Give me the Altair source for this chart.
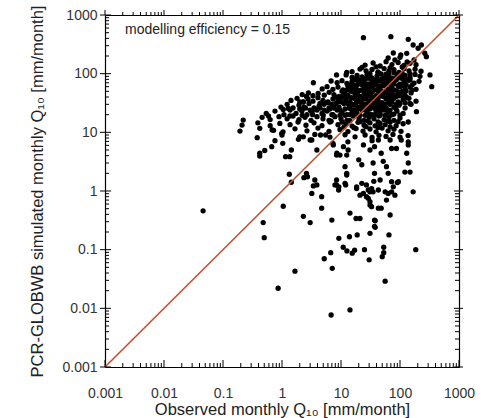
import altair as alt
import pandas as pd

# ---------------- data (observed, simulated) -------------
pts_top = [(103, 208), (130, 222), (167, 308), (203, 271), (230, 308), (263, 223), (280, 195),
           (63, 185), (82, 171), (100, 190), (132, 158), (173, 171), (77, 225), (24, 411),
           (70, 427), (138, 385), (322, 95), (345, 60), (3.4, 70), (8.4, 95), (12.5, 105),
           (147, 31), (190, 22.5), (138, 15), (100, 19.6)]
pts_146 = [(25.6, 140), (35, 152), (46, 135), (58, 160), (73, 143), (93, 155), (117, 138),
           (148, 150), (187, 142), (22.7, 128), (39.3, 131), (68, 126), (109, 130)]
pts_115 = [(15.4, 108), (21, 120), (26.6, 112), (33.6, 118), (42.5, 106), (53.8, 122), (65, 110),
           (79, 117), (96, 105), (117, 121), (142, 112), (180, 119), (227, 110)]
pts_91 = [(12.2, 95), (15.4, 86), (18.7, 93), (22.7, 88), (27.6, 97), (33.6, 85), (40.9, 92),
          (47.8, 99), (56, 87), (65, 94), (76, 84), (89, 96), (104, 89), (122, 93), (148, 86),
          (180, 97), (218, 90)]
pts_72 = [(6.8, 75), (8.6, 70), (10.4, 76), (12.6, 68), (15.4, 74), (18, 78), (21, 69), (24.6, 73),
          (28.7, 67), (33.6, 77), (39.3, 71), (46, 75), (53.8, 68), (62.8, 74), (73, 70), (86, 78),
          (100, 66), (117, 73), (142, 77), (173, 69), (210, 74)]
pts_57 = [(4.8, 55), (5.8, 60), (7.3, 54), (8.9, 59), (10.8, 53), (13.1, 61), (15.4, 56), (18, 58),
          (21, 52), (24.6, 61), (28.7, 55), (33.6, 59), (39.3, 53), (46, 57), (53.8, 62), (62.8, 54),
          (73, 58), (86, 52), (100, 60), (122, 55), (148, 59), (187, 54)]
pts_45 = [(2.2, 44), (2.8, 47), (3.35, 42), (4.1, 46), (5.2, 43), (6.3, 48), (7.6, 44), (9.3, 41),
          (11.2, 47), (13.1, 43), (15.4, 49), (18, 45), (21, 41), (24.6, 46), (28.7, 43), (33.6, 48),
          (39.3, 42), (46, 45), (53.8, 49), (62.8, 43), (73, 47), (86, 41), (100, 46), (122, 43),
          (154, 47)]
pts_36 = [(1.42, 35), (1.8, 38), (2.27, 33), (2.76, 37), (3.35, 34), (4.07, 39), (4.95, 35), (6.0, 32),
          (7.3, 37), (8.9, 34), (10.4, 39), (12.2, 35), (14.2, 33), (16.6, 38), (19.4, 35), (22.7, 32),
          (26.6, 37), (31, 34), (36.3, 39), (42.5, 35), (49.7, 32), (58, 37), (68, 34), (79, 38),
          (93, 33), (113, 36), (142, 38), (187, 34)]
pts_28 = [(0.96, 27), (1.22, 30), (1.54, 26), (1.94, 29), (2.36, 27), (2.87, 31), (3.49, 26),
          (4.24, 28), (5.15, 30), (6.26, 26), (7.6, 29), (9.25, 27), (11.2, 31), (13.7, 26), (16.6, 29),
          (19.4, 27), (22.7, 30), (26.6, 25), (31, 28), (36.3, 31), (42.5, 27), (49.7, 29), (58, 26),
          (68, 30), (79, 27), (96, 29), (122, 26), (154, 30)]
pts_22 = [(0.54, 21), (0.76, 23), (1.08, 20), (1.37, 24), (1.73, 21), (2.18, 23), (2.65, 20),
          (3.22, 22), (3.92, 24), (4.76, 21), (5.8, 23), (7.0, 20), (8.6, 24), (10.4, 22), (12.6, 20),
          (15.4, 23), (18.7, 21), (22.7, 24), (27.6, 22), (33.6, 20), (39.3, 23), (46, 21), (53.8, 24),
          (62.8, 22), (73, 20), (89, 23), (113, 21)]
pts_17 = [(0.22, 16.2), (0.46, 18), (0.63, 16.5), (0.89, 18.5), (1.22, 17), (1.54, 19), (1.94, 16.5),
          (2.45, 18), (3.1, 16), (3.92, 18.5), (4.95, 17), (6.26, 16), (7.9, 18.5), (10, 17), (12.6, 16),
          (16, 19), (20.2, 17), (24.6, 16), (29.9, 18), (36.3, 17), (44, 19), (53.8, 16.5), (65, 18),
          (79, 16), (100, 17.5)]
pts_14 = [(0.21, 13.3), (0.39, 14.5), (0.63, 13), (0.92, 14.2), (1.37, 13.5), (1.87, 15), (2.55, 13.2),
          (3.49, 14.5), (4.76, 13), (6.5, 15), (8.9, 13.5), (12.2, 14), (15.4, 12.8), (19.4, 14.8),
          (24.6, 13.2), (31, 14.5), (37.8, 12.9), (46, 14.2), (56, 13.5), (68, 15), (86, 13), (113, 14)]
pts_11 = [(0.194, 10.5), (0.42, 11.7), (0.68, 11), (1.04, 10.2), (1.66, 11.5), (2.65, 10.6),
          (4.07, 11.8), (6.26, 10.4), (9.6, 11.2), (13.1, 10.3), (18, 11.6), (23.6, 10.5), (31, 11.4),
          (39.3, 10.2), (49.7, 11.8), (62.8, 10.6), (79, 11.3), (104, 10.4)]
pts_9 = [(0.38, 8.1), (1.0, 9.0), (2.0, 8.4), (3.6, 9.2), (6.5, 8.3), (11.7, 9.1), (17.3, 8.4),
         (25.6, 9.0), (33.6, 8.2), (44, 8.9), (58, 8.5), (76, 9.2), (100, 8.3), (137, 8.8)]
pts_5 = [(0.76, 7.2), (3.0, 7.4), (7.3, 6.5), (13.1, 6.9), (24, 6.1), (33.6, 7.2), (43, 7.4), (68, 7.4),
         (105, 7.4), (138, 6.9), (0.51, 4.9), (0.67, 5.7), (1.44, 5.0), (3.9, 5.0), (11, 5.7),
         (13.2, 5.0), (31, 5.0), (37, 5.7), (72, 5.3), (87, 5.3), (138, 6.1), (130, 4.4), (0.42, 4.4),
         (0.42, 3.95), (1.15, 3.85), (1.35, 3.85), (8.5, 4.4), (9.6, 4.1), (48, 4.4), (7.4, 6.1)]
pts_fill = [(31, 100), (42.5, 106), (58, 98), (79, 104), (109, 101), (148, 99),
            (19.4, 80), (26.6, 83), (36.3, 78), (49.7, 82), (68, 79), (93, 84), (127, 80),
            (14.2, 64), (19.4, 66), (26.6, 62), (36.3, 65), (49.7, 63), (68, 66), (93, 62), (127, 65),
            (10.4, 50), (14.2, 52), (19.4, 49), (26.6, 51), (36.3, 53), (49.7, 50), (68, 52), (93, 49),
            (127, 51),
            (7.9, 40), (10.8, 41), (14.8, 39), (20.2, 40), (27.6, 42), (37.8, 39), (51.8, 41), (70.6, 40),
            (96.5, 42), (132, 39),
            (4.4, 31), (6.0, 33), (8.2, 31), (11.2, 32), (15.4, 30), (21, 33), (28.7, 31), (39.3, 32),
            (53.8, 30), (73, 33), (100, 31),
            (2.0, 25), (3.0, 24), (4.4, 26), (6.5, 25), (9.6, 24), (14.2, 26), (19.4, 25), (26.6, 24),
            (36.3, 26), (49.7, 25), (68, 24),
            (9.6, 19.5), (14.2, 20), (21, 19.5), (31, 20), (46, 19.5)]
pts_fill2 = [(16.6, 81), (22.7, 78), (31, 83), (42.5, 79), (58, 82), (79, 77), (109, 83), (148, 79),
             (16.6, 63), (22.7, 65), (31, 66), (42.5, 62), (58, 64), (79, 67), (109, 63), (160, 64),
             (12.2, 52), (16.6, 50), (22.7, 53), (31, 49), (42.5, 51), (58, 48), (79, 53), (109, 50),
             (160, 52),
             (9.3, 39), (12.6, 40), (17.3, 42), (23.6, 38), (32, 40), (44, 41), (60, 39), (82, 42),
             (113, 40),
             (5.2, 32), (7.0, 30), (9.6, 33), (13.1, 31), (18, 32), (24.6, 30), (33.6, 33), (46, 31),
             (62.8, 32), (86, 30), (122, 32),
             (2.5, 26), (3.6, 25), (5.2, 24), (7.6, 26), (11.7, 25), (16.6, 24), (22.7, 26), (31, 25),
             (42.5, 24), (58, 26), (86, 25),
             (2.2, 19.5), (3.3, 20), (5.0, 19.5), (7.3, 20), (11.7, 19.5), (17.3, 20.5), (25.6, 19.5),
             (37.8, 20), (56, 19.5), (79, 20.5),
             (6.8, 15.5), (10.4, 15), (14.2, 15.8), (21, 15.2), (28.7, 15.6), (42.5, 15), (62.8, 15.6),
             (93, 15.2),
             (11.2, 12.3), (16.6, 12), (26.6, 12.5), (42.5, 12.1), (68, 12.4)]
pts_left = [(0.59, 19), (1.05, 24.6), (1.28, 25.6), (1.36, 19), (0.99, 9.6), (1.03, 6.5), (1.9, 7.6),
            (2.3, 8.4), (3.2, 7.4), (4.5, 9.0), (5.5, 9.0), (2.0, 33), (2.6, 41), (0.72, 10.8),
            (2.3, 33)]
pts_low = [(11.7, 2.6), (12.5, 2.0), (20, 3.4), (22.5, 2.8), (35, 3.0), (37, 2.0), (46, 1.54),
           (52, 3.2), (59, 2.6), (63, 2.0), (121, 2.1), (148, 2.1), (138, 3.0), (72, 1.44), (94, 1.44),
           (167, 0.97), (7.9, 1.27), (9.1, 1.04), (11.7, 1.35), (18.4, 1.1), (22.5, 1.35), (24, 0.91),
           (27, 0.8), (29, 1.04), (33, 1.1), (35, 0.97), (31, 0.66), (33, 0.54), (48, 0.51), (43, 0.51),
           (37, 0.32), (37, 0.25), (21, 0.34), (18, 0.34), (14.2, 0.42), (7, 0.32), (4.7, 0.8),
           (4.7, 0.51), (63, 0.91), (72, 0.97), (59, 0.70), (68, 0.39), (3.2, 0.91), (3.4, 1.22),
           (9.2, 1.18), (12, 1.27), (18.4, 1.18), (21, 0.85), (29, 0.75), (31, 0.58), (43, 1.04),
           (56, 0.97), (77, 1.18), (82, 0.85), (90, 1.39), (36, 1.46), (8.4, 1.54), (1.33, 1.93),
           (1.44, 1.41), (2.6, 2.0), (2.35, 1.69), (3.6, 1.54), (3.9, 1.27), (2.7, 1.75), (8.4, 1.27),
           (12.5, 1.87), (27, 1.27), (31, 0.97), (8.4, 4.1), (12.5, 4.1), (1.05, 0.55), (2.3, 0.37),
           (3.0, 0.29), (0.48, 0.29), (0.5, 0.16), (0.046, 0.46), (38, 0.31)]
pts_vlow = [(6.7, 0.089), (5.2, 0.07), (7.1, 0.048), (6.8, 0.0077), (14.2, 0.0094), (9.2, 0.156),
            (13.9, 0.166), (18.8, 0.178), (10.9, 0.11), (12.6, 0.095), (15.5, 0.087), (17, 0.098),
            (25, 0.1), (30, 0.067), (31, 0.19), (38, 0.24), (53, 0.11), (53, 0.089), (50, 0.076),
            (65, 0.178), (56, 0.029), (185, 0.1), (1.66, 0.043), (0.86, 0.022)]

one_to_one = [0.001, 1000]
major_ticks = [0.001, 0.01, 0.1, 1, 10, 100, 1000]
minor_steps = [2, 3, 4, 5, 6, 7, 8, 9]
annotation = "modelling efficiency = 0.15"
x_title = "Observed monthly Q\u2081\u2080 [mm/month]"
y_title = "PCR-GLOBWB simulated monthly Q\u2081\u2080 [mm/month]"

# ---------------- build tables ----------------
groups = [pts_top, pts_146, pts_115, pts_91, pts_72, pts_57, pts_45, pts_36, pts_28, pts_22,
          pts_17, pts_14, pts_11, pts_9, pts_5, pts_fill, pts_fill2, pts_left, pts_low, pts_vlow]
rows = [p for g in groups for p in g]
df = pd.DataFrame(rows, columns=["obs", "sim"])
line_df = pd.DataFrame({"obs": one_to_one, "sim": one_to_one})
text_df = pd.DataFrame({"label": [annotation]})
minor_values = [round(m * d, 6) for d in major_ticks[:-1] for m in minor_steps]
major_df = pd.DataFrame({"v": major_ticks})
minor_df = pd.DataFrame({"v": minor_values})

W, H = 354, 352
FONT = "Liberation Sans"
label_expr = "format(datum.value, '~g')"
scale = alt.Scale(type="log", domain=[0.001, 1000], nice=False)

common = dict(values=major_ticks, ticks=True, tickSize=5, tickOpacity=0, grid=False, domain=True,
              domainColor="black", domainWidth=1.2)

x_bottom = alt.Axis(orient="bottom", labelExpr=label_expr, labelOverlap=False, labelFlush=False,
                    labelFont=FONT, labelFontSize=14, labelColor="#333", labelPadding=14,
                    title=x_title, titleFont=FONT, titleFontSize=16.5, titleFontWeight="normal",
                    titleColor="#222", titleY=47, titleBaseline="alphabetic", **common)
y_left = alt.Axis(orient="left", labelExpr=label_expr, labelOverlap=False, labelFlush=False,
                  labelFont=FONT, labelFontSize=14, labelColor="#333", labelPadding=3,
                  title=y_title, titleFont=FONT, titleFontSize=16.5, titleFontWeight="normal",
                  titleColor="#222", titleX=-63, titleBaseline="alphabetic", **common)
x_top = alt.Axis(orient="top", labels=False, title=None, **common)
y_right = alt.Axis(orient="right", labels=False, title=None, **common)

points = alt.Chart(df).mark_circle(size=28, color="black", opacity=1).encode(
    x=alt.X("obs:Q", scale=scale, axis=x_bottom),
    y=alt.Y("sim:Q", scale=scale, axis=y_left),
)
line = alt.Chart(line_df).mark_line(color="#c4502a", strokeWidth=1.6).encode(
    x=alt.X("obs:Q", scale=scale, axis=x_top),
    y=alt.Y("sim:Q", scale=scale, axis=y_right),
)
text = alt.Chart(text_df).mark_text(align="left", baseline="alphabetic", font=FONT, fontSize=14,
                                    color="#222").encode(
    x=alt.value(20), y=alt.value(18.5), text="label:N"
)


def xticks(data, y0, y1):
    return alt.Chart(data).mark_rule(color="black", strokeWidth=1).encode(
        x=alt.X("v:Q", scale=scale, axis=None), y=alt.value(y0), y2=alt.value(y1))


def yticks(data, x0, x1):
    return alt.Chart(data).mark_rule(color="black", strokeWidth=1).encode(
        y=alt.Y("v:Q", scale=scale, axis=None), x=alt.value(x0), x2=alt.value(x1))


tick_layers = [
    xticks(major_df, H, H - 7), xticks(minor_df, H, H - 4),      # bottom, inward
    xticks(major_df, 0, -5), xticks(minor_df, 0, -3),            # top, outward
    yticks(major_df, -5, 6), yticks(minor_df, 0, 4),             # left
    yticks(major_df, W - 5, W + 4), yticks(minor_df, W, W - 4),  # right
]

chart = alt.layer(points, line, text, *tick_layers).resolve_axis(
    x="independent", y="independent"
).properties(
    width=W, height=H,
    padding={"left": 105, "top": 15, "right": 25, "bottom": 51},
    autosize=alt.AutoSizeParams(type="none"),
).configure_view(stroke=None)

chart.save("out.html", embed_options={"renderer": "svg", "actions": False})
